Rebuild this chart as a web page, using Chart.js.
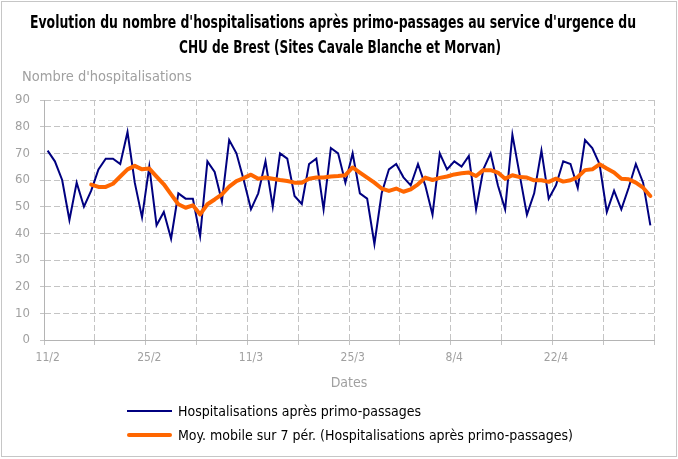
<!DOCTYPE html>
<html lang="fr">
<head>
<meta charset="utf-8">
<script src="https://cdn.jsdelivr.net/npm/chart.js@4.4.0/dist/chart.umd.min.js"></script>
<style>
	html, body { margin: 0; padding: 0; background: #fff; }
	.frame { position: relative; width: 678px; height: 459px; overflow: hidden; }
	.frame canvas { position: absolute; left: 0; top: 0; }
	.frame-border { position: absolute; left: 1px; top: 1px; width: 674px; height: 454px; border: 1px solid #c6c6c6; pointer-events: none; }
	#legend { position: absolute; left: 127px; top: 399px; font-family: 'DejaVu Sans Condensed', 'DejaVu Sans', sans-serif; font-size: 14px; color: #000; }
	.legend-row { display: flex; align-items: center; height: 24px; }
	.legend-line { width: 45px; margin-right: 6px; }
</style>
</head>
<body>
<div class="frame">
	<canvas id="chartHospit" width="678" height="459"></canvas>
	<div id="legend"></div>
	<div class="frame-border"></div>
</div>
<script>
const FONT = "'DejaVu Sans Condensed', 'DejaVu Sans', sans-serif";
const AXIS_TEXT = '#a0a0a0';
const GRID = '#c4c4c4';
const AXIS_LINE = '#b4b4b4';

const TITLE = [
	"Evolution du nombre d'hospitalisations après primo-passages au service d'urgence du",
	'CHU de Brest (Sites Cavale Blanche et Morvan)',
];
const Y_TITLE = "Nombre d'hospitalisations";
const X_TITLE = 'Dates';

const dates = [
	'11/2', '12/2', '13/2', '14/2', '15/2', '16/2', '17/2', '18/2', '19/2', '20/2',
	'21/2', '22/2', '23/2', '24/2', '25/2', '26/2', '27/2', '28/2', '1/3', '2/3',
	'3/3', '4/3', '5/3', '6/3', '7/3', '8/3', '9/3', '10/3', '11/3', '12/3',
	'13/3', '14/3', '15/3', '16/3', '17/3', '18/3', '19/3', '20/3', '21/3', '22/3',
	'23/3', '24/3', '25/3', '26/3', '27/3', '28/3', '29/3', '30/3', '31/3', '1/4',
	'2/4', '3/4', '4/4', '5/4', '6/4', '7/4', '8/4', '9/4', '10/4', '11/4',
	'12/4', '13/4', '14/4', '15/4', '16/4', '17/4', '18/4', '19/4', '20/4', '21/4',
	'22/4', '23/4', '24/4', '25/4', '26/4', '27/4', '28/4', '29/4', '30/4', '1/5',
	'2/5', '3/5', '4/5', '5/5',
];
const tickLabels = ['11/2', '25/2', '11/3', '25/3', '8/4', '22/4'];

const hospitalisations = [
	71, 67, 60, 45, 59, 50, 56, 64, 68, 68,
	66, 78, 59, 46, 65, 43, 48, 38, 55, 53,
	53, 39, 67, 63, 52, 75, 70, 60, 49, 55,
	67, 50, 70, 68, 54, 51, 66, 68, 49, 72,
	70, 59, 70, 55, 53, 36, 55, 64, 66, 61,
	58, 66, 58, 47, 70, 64, 67, 65, 69, 49,
	64, 70, 58, 49, 77, 62, 47, 55, 71, 53,
	58, 67, 66, 57, 75, 72, 66, 48, 56, 49,
	57, 66, 59, 43,
];
const moyenneMobile = [
	null, null, null, null, null, null, 58.3, 57.4, 57.4, 58.6,
	61.3, 64.0, 65.3, 64.0, 64.3, 61.3, 58.4, 54.6, 50.9, 49.6,
	50.5, 47.1, 50.9, 52.7, 54.6, 57.5, 59.6, 60.7, 62.0, 60.5,
	60.9, 60.5, 60.0, 59.6, 59.0, 59.0, 60.5, 60.9, 60.9, 61.3,
	61.5, 61.8, 64.7, 62.8, 60.9, 59.0, 56.8, 55.9, 56.8, 55.6,
	56.5, 58.4, 60.9, 60.0, 60.8, 61.3, 62.1, 62.5, 62.8, 61.5,
	63.7, 63.7, 62.8, 60.5, 61.8, 61.1, 60.9, 59.9, 59.9, 59.3,
	60.5, 59.4, 59.9, 61.1, 63.7, 64.0, 65.9, 64.3, 62.8, 60.5,
	60.3, 59.0, 57.1, 54.0,
];

Chart.defaults.font.family = FONT;

// title lines are squeezed to the width of the condensed original font
const titlePlugin = {
	id: 'condensedTitle',
	afterDraw(chart) {
		const { ctx } = chart;
		const widths = [606, 322];
		const centers = [333, 340];
		ctx.save();
		ctx.font = 'bold 17px ' + FONT;
		ctx.fillStyle = '#000';
		ctx.textAlign = 'center';
		ctx.textBaseline = 'middle';
		TITLE.forEach((line, i) => {
			ctx.fillText(line, centers[i], 24 + i * 25, widths[i]);
		});
		ctx.restore();
	},
};

// y axis title sits horizontally above the axis, like the Excel original
const yTitlePlugin = {
	id: 'yTitle',
	afterDraw(chart) {
		const { ctx, chartArea } = chart;
		ctx.save();
		ctx.font = '14.5px ' + FONT;
		ctx.fillStyle = AXIS_TEXT;
		ctx.textBaseline = 'middle';
		ctx.textAlign = 'left';
		ctx.fillText(Y_TITLE, chartArea.left - 22, chartArea.top - 23);
		ctx.restore();
	},
};

const ctx = document.querySelector('#chartHospit').getContext('2d');
const chart = new Chart(ctx, {
	type: 'line',
	data: {
		labels: dates,
		datasets: [
			{
				label: 'Hospitalisations après primo-passages',
				data: hospitalisations,
				borderColor: '#000080',
				borderWidth: 2,
				pointRadius: 0,
				tension: 0,
				order: 1,
			},
			{
				label: 'Moy. mobile sur 7 pér. (Hospitalisations après primo-passages)',
				data: moyenneMobile,
				borderColor: '#ff6600',
				borderWidth: 4,
				borderJoinStyle: 'round',
				borderCapStyle: 'round',
				pointRadius: 0,
				tension: 0,
				order: 0,
			},
		],
	},
	options: {
		responsive: false,
		animation: false,
		layout: {
			padding: { left: 10, right: 24, top: 100, bottom: 59 },
		},
		scales: {
			x: {
				type: 'category',
				offset: true,
				afterFit: scale => {
					scale.height = 60;
				},
				grid: {
					offset: true,
					color: c => (c.index === undefined || c.index % 7 === 0 ? GRID : 'transparent'),
					tickLength: 5,
				},
				border: {
					color: AXIS_LINE,
					dash: [6, 3],
				},
				ticks: {
					autoSkip: false,
					maxRotation: 0,
					padding: 6,
					color: AXIS_TEXT,
					font: { size: 12 },
					callback: (value, index) => (tickLabels.includes(dates[index]) ? dates[index] : ''),
				},
				title: {
					display: true,
					text: X_TITLE,
					color: AXIS_TEXT,
					font: { size: 14 },
					padding: { top: 0, bottom: 8 },
				},
			},
			y: {
				min: 0,
				max: 90,
				afterFit: scale => {
					scale.width = 34;
				},
				grid: {
					color: GRID,
					tickLength: 4,
				},
				border: {
					color: AXIS_LINE,
					dash: [6, 3],
				},
				ticks: {
					stepSize: 10,
					padding: 10,
					color: AXIS_TEXT,
					font: { size: 13 },
				},
			},
		},
		plugins: {
			legend: { display: false },
			tooltip: { enabled: false },
			title: { display: false },
		},
	},
	plugins: [titlePlugin, yTitlePlugin],
});

// legend drawn as html so both rows start at the same x
const legendEl = document.querySelector('#legend');
chart.data.datasets.forEach(dataset => {
	const row = document.createElement('div');
	row.className = 'legend-row';
	const line = document.createElement('span');
	line.className = 'legend-line';
	line.style.borderTop = dataset.borderWidth + 'px solid ' + dataset.borderColor;
	line.style.borderRadius = dataset.borderWidth > 2 ? '2px' : '0';
	const text = document.createElement('span');
	text.textContent = dataset.label;
	row.appendChild(line);
	row.appendChild(text);
	legendEl.appendChild(row);
});
</script>
</body>
</html>
